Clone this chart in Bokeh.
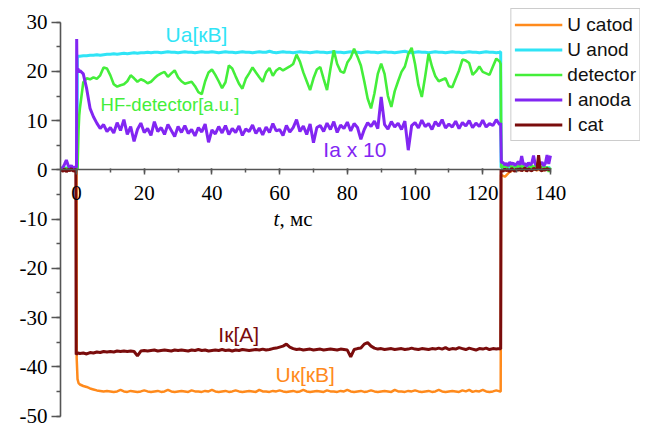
import numpy as np
from bokeh.plotting import figure
from bokeh.models import (LinearAxis, SingleIntervalTicker, Legend, LegendItem,
                          Label, Range1d, CustomJSTickFormatter)
from bokeh.embed import file_html
from bokeh.resources import INLINE

# ---------------- data ----------------
t_pre = [-4.5, -4.0, -3.5, -3.0, -2.5, -2.0, -1.5, -1.0, -0.5]
t_body = list(range(1, 126))
t_post = [126.0, 126.5, 127.0, 127.5, 128.0, 128.5, 129.0, 129.5, 130.0, 130.5,
          131.0, 131.5, 132.0, 132.5, 133.0, 133.5, 134.0, 134.5, 135.0, 135.5,
          136.0, 136.5, 137.0, 137.5, 138.0, 138.5, 139.0, 139.5, 140.0]

# U anod (cyan)
ua_pre = [0.2, 0.3, 0.2, 0.4, 0.2, 0.3, 0.2, 0.3, 0.2]
ua_rise_t = [0.0, 0.2, 0.25, 0.6]
ua_rise = [0.2, 0.3, 23.0, 23.1]
ua_body = [23.1, 23.2, 23.2, 23.3, 23.3, 23.4, 23.3, 23.4, 23.5, 23.5,
           23.6, 23.5, 23.6, 23.7, 23.6, 23.7, 23.8, 23.7, 23.8, 23.8,
           23.9, 23.8, 23.9, 23.9, 23.8, 23.9, 24.0, 23.9, 23.9, 23.8,
           23.9, 24.0, 23.9, 23.9, 23.8, 23.9, 24.0, 23.9, 23.9, 24.0,
           23.9, 23.8, 23.9, 24.0, 23.9, 23.9, 23.8, 23.9, 24.0, 23.9,
           23.9, 23.8, 23.9, 24.0, 23.9, 23.9, 24.1, 23.9, 23.8, 23.9,
           24.0, 23.9, 23.9, 23.8, 23.9, 24.0, 23.9, 23.9, 23.8, 23.9,
           24.0, 23.9, 23.9, 23.8, 23.9, 24.0, 23.9, 23.9, 23.8, 23.9,
           24.0, 23.9, 23.9, 23.8, 23.9, 24.0, 23.9, 23.9, 23.8, 23.9,
           24.0, 23.9, 23.9, 23.8, 23.9, 24.0, 24.1, 23.9, 23.8, 23.9,
           24.0, 23.9, 23.9, 23.8, 23.9, 24.0, 23.9, 23.9, 23.8, 23.9,
           24.0, 23.9, 23.9, 23.8, 23.9, 24.0, 23.9, 23.9, 23.8, 23.9,
           24.0, 23.9, 23.9, 23.8, 23.9]
ua_fall_t = [125.3, 125.4]
ua_fall = [24.0, 0.5]
ua_post = [0.6, 0.4, 0.7, 0.3, 0.5, 0.6, 0.4, 0.5, 0.3, 0.6,
           0.5, 0.4, 0.6, 0.3, 0.5, 0.4, 0.6, 0.5, 0.3, 0.5,
           0.6, 0.4, 0.5, 0.3, 0.6, 0.4, 0.5, 0.4, 0.5]

# HF detector (green)
det_pre = [0.3, 0.1, 0.4, 0.2, 0.5, 0.2, 0.3, 0.1, 0.2]
det_rise_t = [0.0, 0.3, 0.6, 0.8]
det_rise = [0.2, 0.2, 8.0, 11.0]
det_body = [12.5, 17.8, 18.6, 18.4, 18.8, 18.5, 19.2, 20.8, 20.6, 19.2,
            17.4, 16.9, 17.2, 17.4, 18.0, 19.2, 18.6, 17.9, 18.4, 18.1,
            17.6, 17.9, 18.6, 19.2, 19.6, 19.9, 18.9, 19.6, 20.2, 18.8,
            18.0, 17.5, 17.7, 17.9, 17.0, 15.8, 15.4, 18.0, 19.8, 20.4,
            19.3, 18.0, 16.6, 17.8, 21.2, 20.6, 19.0, 17.5, 16.5, 18.5,
            19.6, 20.8, 19.8, 18.8, 17.9, 19.8, 20.7, 19.1, 20.2, 20.7,
            20.2, 20.6, 21.0, 21.5, 23.4, 22.0, 19.8, 18.0, 16.2, 18.6,
            20.4, 20.9, 18.5, 16.2, 20.5, 24.3, 21.5, 20.0, 19.7, 21.8,
            22.8, 24.6, 23.0, 21.2, 18.0, 14.5, 12.5, 15.5, 19.5, 21.6,
            19.5, 15.0, 12.8, 16.0, 18.0, 19.9, 21.0, 23.5, 24.8, 21.5,
            17.2, 14.8, 19.0, 23.6, 21.0, 19.0, 18.0, 18.3, 18.6, 17.0,
            16.8, 18.5, 20.2, 22.4, 22.2, 21.7, 19.3, 20.0, 21.0, 19.9,
            19.6, 19.3, 21.0, 22.6, 22.0]
det_fall_t = [125.3, 125.5]
det_fall = [21.5, 0.5]
det_post = [0.6, 0.9, 0.4, 0.8, 1.1, 0.5, 0.7, 0.3, 0.9, 0.6,
            1.2, 0.4, 0.8, 0.5, 1.0, 0.6, 0.3, 0.9, 0.5, 0.8,
            1.1, 0.4, 0.7, 0.5, 0.9, 0.3, 0.6, -0.4, 0.5]

# I anoda x 10 (purple)
ia_pre = [0.3, 0.5, 1.2, 2.0, 1.0, 0.4, 0.9, 0.3, 0.6]
ia_rise_t = [0.0, 0.05, 0.15, 0.4, 0.7]
ia_rise = [0.5, 26.6, 20.0, 20.6, 19.8]
ia_body = [20.2, 19.5, 16.5, 12.5, 10.8, 9.5, 8.4, 9.2, 7.8, 8.6,
           7.5, 9.6, 8.0, 10.2, 7.2, 8.8, 5.8, 8.2, 9.5, 7.6,
           8.4, 7.0, 9.8, 7.8, 8.6, 7.2, 9.2, 8.0, 6.8, 8.8,
           7.6, 9.0, 7.4, 8.2, 6.9, 8.6, 7.7, 9.3, 5.6, 8.1,
           7.3, 8.8, 7.5, 9.0, 7.2, 8.4, 7.6, 8.9, 7.0, 8.3,
           7.8, 9.1, 7.4, 8.5, 7.1, 8.7, 7.6, 9.4, 7.9, 8.2,
           7.0, 9.0, 7.7, 8.6, 10.2, 7.8, 8.9, 7.2, 9.3, 5.5,
           8.6, 9.0, 7.8, 9.5, 8.2, 9.8, 7.6, 9.1, 8.4, 9.7,
           7.9, 9.4, 8.6, 6.2, 8.2, 9.6, 8.8, 9.9, 8.4, 14.8,
           9.2, 8.3, 9.8, 8.7, 9.5, 8.2, 9.9, 4.0, 9.0, 9.6,
           8.5, 10.1, 8.8, 9.4, 8.2, 9.8, 8.9, 10.2, 8.5, 9.3,
           8.7, 9.9, 8.4, 9.6, 8.9, 10.0, 8.6, 9.5, 8.8, 10.1,
           8.7, 9.4, 9.0, 10.2, 9.2]
ia_fall_t = [125.3, 125.5]
ia_fall = [9.5, 1.5]
ia_post = [1.5, 1.0, 1.3, 0.8, 1.6, 1.1, 1.4, 0.9, 1.2, 1.7,
           1.0, 2.8, 1.1, 1.3, 0.7, 1.5, 1.0, 1.4, 2.9, 1.2,
           0.9, 1.5, 1.1, 1.6, 0.8, 1.3, 3.0, 1.2, 2.9]

# I cat (dark red)
ik_pre = [0.0, -0.3, 0.2, -0.4, 0.1, -0.2, 0.3, -0.3, 0.0]
ik_rise_t = [-0.2, -0.1, 0.4]
ik_rise = [0.0, -37.5, -37.2]
ik_body = [-37.3, -37.2, -37.4, -37.1, -37.2, -37.0, -37.1, -36.9, -37.0, -36.9,
           -37.0, -36.8, -36.9, -36.8, -36.9, -36.8, -36.9, -37.8, -36.8, -36.7,
           -36.8, -36.7, -36.6, -36.8, -36.7, -36.6, -36.7, -36.8, -36.6, -36.7,
           -36.6, -36.7, -36.8, -36.6, -36.7, -36.5, -36.7, -36.6, -36.8, -36.7,
           -36.6, -36.7, -36.5, -36.7, -36.6, -36.8, -36.6, -36.7, -36.5, -36.6,
           -36.7, -36.6, -36.5, -36.6, -36.4, -36.6, -36.5, -36.3, -36.2, -36.0,
           -35.8, -35.4, -36.0, -36.3, -36.5, -36.4, -36.6, -36.5, -36.4, -36.6,
           -36.5, -36.4, -36.6, -36.5, -36.4, -36.5, -36.6, -36.4, -36.5, -36.6,
           -38.0, -36.5, -36.3, -36.2, -35.4, -35.1, -35.8, -36.2, -36.4, -36.3,
           -36.5, -36.4, -36.3, -36.5, -36.4, -36.3, -36.5, -36.4, -36.2, -36.4,
           -36.5, -36.3, -36.4, -36.5, -36.3, -36.4, -36.2, -36.4, -36.1, -36.5,
           -36.3, -36.4, -36.1, -36.3, -36.5, -36.2, -36.4, -36.6, -36.3, -36.4,
           -36.2, -36.5, -36.3, -36.4, -36.3]
ik_fall_t = [125.3, 125.4]
ik_fall = [-36.4, 0.0]
ik_post = [-0.3, 0.2, -0.2, 0.1, -0.4, 0.3, 0.0, -0.3, 0.2, -0.1,
           0.3, -0.2, 0.1, 0.4, -0.3, 0.2, 0.0, -0.2, 0.3, 0.1,
           0.0, 3.0, 0.0, -0.2, 0.2, -0.1, 0.3, 0.0, 0.1]

# U catod (orange)
uk_pre = [0.1, -0.1, 0.0, 0.1, -0.1, 0.0, 0.1, 0.0, -0.1]
uk_rise_t = [0.0, 0.05, 0.3, 0.6]
uk_rise = [0.0, -38.2, -42.5, -43.3]
uk_body = [-43.6, -43.9, -44.1, -44.4, -44.6, -44.8, -44.9, -45.0, -44.9, -45.0,
           -45.1, -45.0, -44.7, -45.0, -45.1, -44.9, -45.0, -45.1, -45.0, -44.8,
           -45.0, -45.1, -45.0, -44.9, -45.1, -45.0, -44.7, -45.0, -45.1, -45.0,
           -44.9, -45.0, -45.1, -44.8, -45.0, -45.0, -45.1, -44.9, -45.0, -44.7,
           -45.0, -45.1, -45.0, -44.9, -45.1, -45.0, -44.8, -45.0, -45.1, -45.0,
           -44.9, -45.0, -45.1, -44.7, -45.0, -45.0, -45.1, -44.9, -45.0, -44.8,
           -45.0, -45.1, -45.0, -44.9, -45.1, -45.0, -44.7, -45.0, -45.1, -45.0,
           -44.9, -45.0, -45.1, -44.8, -45.0, -45.0, -45.1, -44.9, -45.0, -44.7,
           -45.0, -45.1, -45.0, -44.9, -45.1, -45.0, -44.8, -45.0, -45.1, -45.0,
           -44.9, -45.0, -45.1, -44.7, -45.0, -45.0, -45.1, -44.9, -45.0, -44.8,
           -45.0, -45.1, -45.0, -44.9, -45.1, -45.0, -44.7, -45.0, -45.1, -45.0,
           -44.9, -45.0, -45.1, -44.8, -45.0, -44.7, -45.1, -44.9, -45.0, -44.7,
           -45.0, -45.1, -45.0, -44.8, -45.0]
uk_fall_t = [125.3, 125.4]
uk_fall = [-45.0, -1.0]
uk_post = [-1.2, -1.4, -1.1, -0.7, -0.4, -0.2, 0.0, -0.1, 0.1, 0.0,
           -0.1, 0.1, 0.0, -0.1, 0.0, 0.1, -0.1, 0.0, 0.1, 0.0,
           -0.1, 0.0, 0.1, 0.0, -0.1, 0.0, 0.1, 0.0, -0.1]

legend_labels = ["U catod", "U anod", "detector", "I anoda", "I cat"]
y_ticks_interval = 10
x_ticks_interval = 20

# ---------------- styling ----------------
C_ORANGE = "#ff8a1c"
C_CYAN = "#30e4f6"
C_GREEN = "#44ee3a"
C_PURPLE = "#8226f2"
C_WINE = "#7a0c0c"
AX = "#555555"


def series(pre, rise_t, rise, body, fall_t, fall, post):
    t = t_pre + rise_t + t_body + fall_t + t_post
    v = pre + rise + body + fall + post
    return t, v


p = figure(width=648, height=428, output_backend="svg", toolbar_location=None,
           x_range=Range1d(-4.73, 166.6), y_range=Range1d(-50.91, 32.78),
           x_axis_location=None, y_axis_location="left",
           min_border_left=60, min_border_right=8, min_border_top=8,
           min_border_bottom=8)
p.outline_line_color = None
p.grid.visible = False
p.background_fill_color = "white"
p.border_fill_color = "white"

renderers = []
for (args, col, lw) in [
        ((uk_pre, uk_rise_t, uk_rise, uk_body, uk_fall_t, uk_fall, uk_post), C_ORANGE, 2.5),
        ((ua_pre, ua_rise_t, ua_rise, ua_body, ua_fall_t, ua_fall, ua_post), C_CYAN, 3),
        ((det_pre, det_rise_t, det_rise, det_body, det_fall_t, det_fall, det_post), C_GREEN, 2.6),
        ((ia_pre, ia_rise_t, ia_rise, ia_body, ia_fall_t, ia_fall, ia_post), C_PURPLE, 3),
        ((ik_pre, ik_rise_t, ik_rise, ik_body, ik_fall_t, ik_fall, ik_post), C_WINE, 3)]:
    t, v = series(*args)
    r = p.line(t, v, line_color=col, line_width=lw)
    renderers.append(r)

# y axis
ya = p.yaxis[0]
ya.ticker = SingleIntervalTicker(interval=y_ticks_interval, num_minor_ticks=2)
ya.formatter = CustomJSTickFormatter(code="return tick.toFixed(0);")
ya.bounds = (-50, 30)
ya.axis_line_color = AX
ya.axis_line_width = 1.6
ya.major_tick_line_color = AX
ya.minor_tick_line_color = AX
ya.major_tick_line_width = 1.5
ya.minor_tick_line_width = 1.5
ya.major_tick_out = 9
ya.major_tick_in = 0
ya.minor_tick_out = 4
ya.minor_tick_in = 0
ya.major_label_text_font = "Liberation Serif"
ya.major_label_text_font_size = "21px"
ya.major_label_text_color = "black"
ya.major_label_standoff = 4

# x axis at y = 0
xa = LinearAxis(fixed_location=0, bounds=(-4.73, 140),
                ticker=SingleIntervalTicker(interval=x_ticks_interval, num_minor_ticks=2))
xa.formatter = CustomJSTickFormatter(code="return tick.toFixed(0);")
xa.axis_line_color = AX
xa.axis_line_width = 1.6
xa.major_tick_line_color = AX
xa.minor_tick_line_color = AX
xa.major_tick_line_width = 1.5
xa.minor_tick_line_width = 1.5
xa.major_tick_out = 5
xa.major_tick_in = 1
xa.minor_tick_out = 3
xa.minor_tick_in = 1
xa.major_label_text_font = "Liberation Serif"
xa.major_label_text_font_size = "21px"
xa.major_label_text_color = "black"
xa.major_label_standoff = 11
p.add_layout(xa, "below")

# axis title "t, мс"
p.add_layout(Label(x=58.2, y=-10.0, text="t", text_font="Liberation Serif",
                   text_font_style="italic", text_font_size="21px",
                   text_color="black", text_baseline="alphabetic"))
p.add_layout(Label(x=58.2, y=-10.0, x_offset=6, text=", мс", text_font="Liberation Serif",
                   text_font_size="21px", text_color="black", text_baseline="alphabetic"))

# in-plot annotations
for (tx, xx, yy, col, fs) in [("Ua[кВ]", 26.3, 27.4, C_CYAN, "21px"),
                              ("HF-detector[a.u.]", 7.1, 13.3, C_GREEN, "18.5px"),
                              ("Ia x 10", 72.9, 4.2, C_PURPLE, "21px"),
                              ("Iк[A]", 41.9, -33.4, C_WINE, "21px"),
                              ("Uк[кВ]", 58.8, -41.5, C_ORANGE, "21px")]:
    p.add_layout(Label(x=xx, y=yy, text=tx, text_font="Liberation Sans",
                       text_font_size=fs, text_color=col, text_baseline="alphabetic"))

legend = Legend(items=[LegendItem(label=l, renderers=[r]) for l, r in zip(legend_labels, renderers)],
                location="top_right", margin=0, padding=3, spacing=0,
                glyph_width=48, glyph_height=25, label_height=25, label_standoff=5,
                label_text_font="Liberation Sans", label_text_font_size="19px",
                label_text_color="#111111", border_line_color="#9a9a9a",
                border_line_width=1.2, background_fill_alpha=1.0)
p.add_layout(legend)

open("out.html", "w").write(file_html(p, INLINE))
